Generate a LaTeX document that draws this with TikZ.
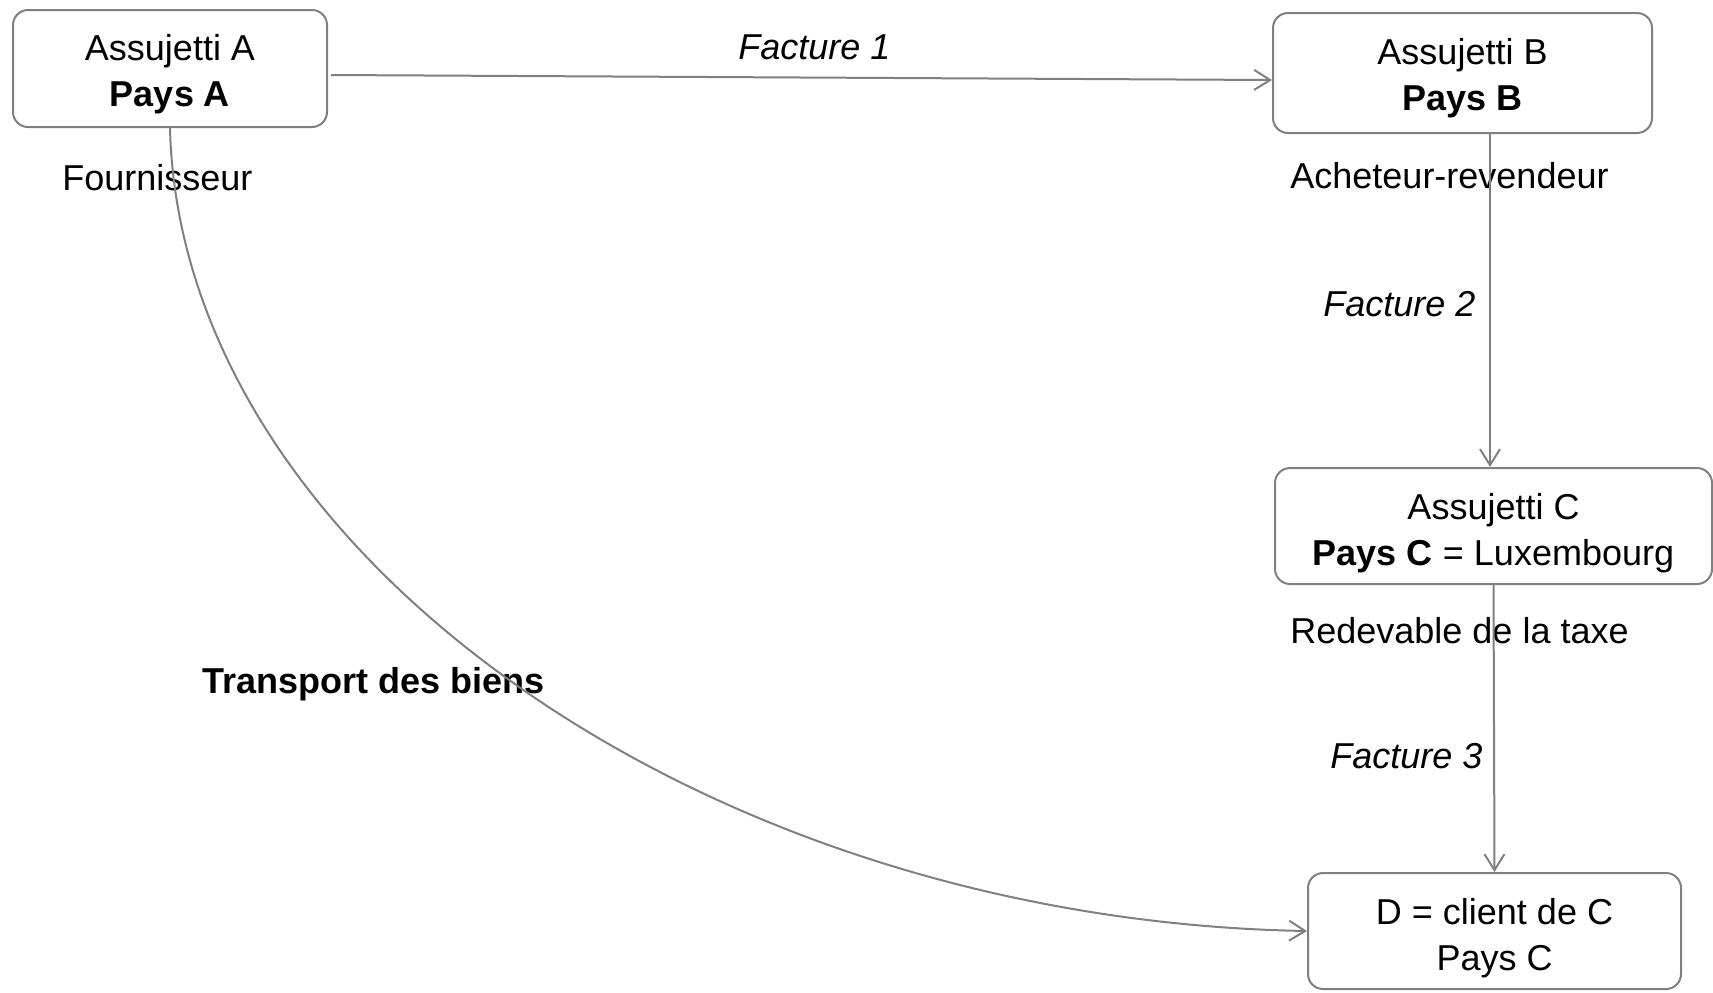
\documentclass[tikz,border=0pt]{standalone}
\usepackage{fontspec}
\setmainfont{Liberation Sans}
\usetikzlibrary{arrows.meta,calc}
\definecolor{linegray}{RGB}{128,128,128}
\tikzset{
  boxnode/.style={draw=linegray, line width=1pt, rounded corners=7.5pt, inner sep=0pt, fill=white},
  boxtext/.style={align=center, inner sep=0pt, font=\fontsize{18pt}{23pt}\selectfont},
  lbl/.style={anchor=base west, inner sep=0pt, font=\fontsize{18pt}{23pt}\selectfont},
  conn/.style={draw=linegray, line width=1pt, -{Straight Barb[length=8pt,width=10pt,line width=1pt]}},
}
\begin{document}
\begin{tikzpicture}[x=0.5pt, y=-0.5pt]
\useasboundingbox (0,0) rectangle (1713,992);
% boxes
\node[boxnode, minimum width=157pt, minimum height=58.5pt] (A) at (170,68.5) {};
\node[boxnode, minimum width=189.5pt, minimum height=60pt] (B) at (1462.5,73) {};
\node[boxnode, minimum width=218.5pt, minimum height=58pt] (C) at (1493.5,526) {};
\node[boxnode, minimum width=186.5pt, minimum height=58pt] (D) at (1494.5,931) {};
% box texts
\node[boxtext] (At) at ([yshift=-3pt]A.center) {Assujetti A\\\textbf{Pays A}};
\node[boxtext] (Bt) at ([yshift=-2.8pt]B.center) {Assujetti B\\\textbf{Pays B}};
\node[boxtext] (Ct) at ([yshift=-3.5pt]C.center) {Assujetti C\\\textbf{Pays C} = Luxembourg};
\node[boxtext] (Dt) at ([yshift=-3.5pt]D.center) {D = client de C\\Pays C};
% labels
\node[lbl] (l1) at (62,190) {Fournisseur};
\node[lbl] (l2) at (1290,188) {Acheteur-revendeur};
\node[lbl] (l3) at (1290,643) {Redevable de la taxe};
\node[lbl] (l4) at (202,693) {\textbf{Transport des biens}};
\node[lbl] (f1) at (738,59) {\textit{Facture 1}};
\node[lbl] (f2) at (1323,316) {\textit{Facture 2}};
\node[lbl] (f3) at (1330,768) {\textit{Facture 3}};
% connectors
\draw[conn] ($(A.east)+(3,6.5)$) -- ($(B.west)+(0,7)$);
\draw[conn] ($(B.south)+(27.5,0)$) -- ($(C.north)+(-3.5,0)$);
\draw[conn] (C.south) -- (D.north);
\draw[conn] (A.south) .. controls (180,550) and (700,920) .. (D.west);
\end{tikzpicture}
\end{document}
